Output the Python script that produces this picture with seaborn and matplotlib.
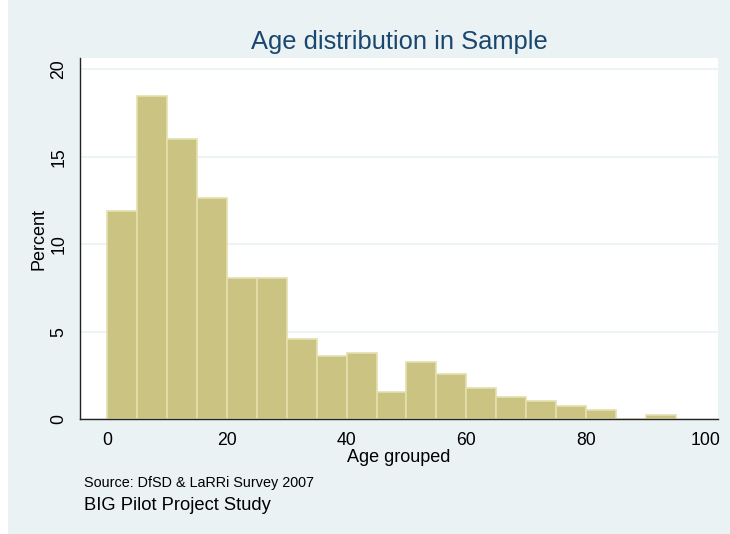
import matplotlib
matplotlib.use("Agg")
import matplotlib.pyplot as plt
import seaborn as sns
import numpy as np
from matplotlib.patches import Rectangle

# Data
bin_edges = [0, 5, 10, 15, 20, 25, 30, 35, 40, 45, 50, 55, 60, 65, 70, 75, 80, 85, 90, 95]
percent = [11.9, 18.5, 16.0, 12.65, 8.1, 8.1, 4.6, 3.6, 3.8, 1.55, 3.3, 2.6, 1.8, 1.25, 1.03, 0.76, 0.52, 0.0, 0.27]
bin_mids = [(a + b) / 2 for a, b in zip(bin_edges[:-1], bin_edges[1:])]
x_ticks = [0, 20, 40, 60, 80, 100]
y_ticks = [0, 5, 10, 15, 20]

sns.set_theme(style="white")
plt.rcParams['font.family'] = ['Liberation Sans', 'DejaVu Sans']

bg = "#EAF2F3"
fig = plt.figure(figsize=(7.30, 5.34), dpi=100)
fig.patch.set_facecolor("white")
fig.patches.append(Rectangle((8 / 730, 0.5 / 534), 1, 1, transform=fig.transFigure,
                             facecolor=bg, edgecolor="none", zorder=-10))

ax = fig.add_axes([80 / 730, 1 - 419.3 / 534, (718 - 80) / 730, (419.3 - 58) / 534])
ax.set_facecolor("white")

sns.histplot(x=bin_mids, weights=percent, bins=bin_edges, ax=ax,
             color="#CBC381", alpha=1, edgecolor="#E4DFAE", linewidth=1.2)

ax.set_xlim(-4.5, 102)
ax.set_ylim(0, 20.65)
ax.set_xticks(x_ticks)
ax.set_yticks(y_ticks)
ax.yaxis.grid(True, color=bg, linewidth=1.2)
ax.set_axisbelow(True)
for s in ["top", "right"]:
    ax.spines[s].set_visible(False)
for s in ["left", "bottom"]:
    ax.spines[s].set_color("#222222")
    ax.spines[s].set_linewidth(1.0)
ax.tick_params(axis="both", direction="out", length=6, width=1, color="#222222",
               labelsize=12.7, labelcolor="black", pad=3)
plt.setp(ax.get_yticklabels(), rotation=90, va="center")
ax.set_xlabel("Age grouped", fontsize=13, color="black", labelpad=0)
ax.set_ylabel("Percent", fontsize=13, color="black", labelpad=2)
fig.text(399 / 730, 1 - 42 / 534, "Age distribution in Sample", ha="center", va="center",
         fontsize=18.4, color="#1A476F")
fig.text(84 / 730, 1 - 483 / 534, "Source: DfSD & LaRRi Survey 2007", ha="left", va="center",
         fontsize=10.4, color="black")
fig.text(84 / 730, 1 - 505 / 534, "BIG Pilot Project Study", ha="left", va="center",
         fontsize=13.2, color="black")

fig.savefig("out.png", dpi=100, facecolor=fig.get_facecolor())
